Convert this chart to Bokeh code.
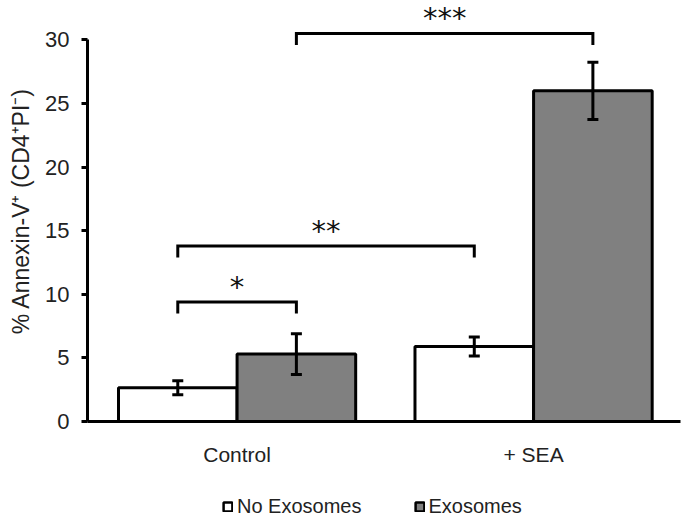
from bokeh.plotting import figure
from bokeh.layouts import column
from bokeh.models import Range1d, FixedTicker, Whisker, TeeHead, ColumnDataSource, Legend, LegendItem
from bokeh.core.properties import value
from bokeh.embed import file_html
from bokeh.resources import INLINE

# ---- data ----
categories = ["Control", "+ SEA"]
series_names = ["No Exosomes", "Exosomes"]
no_exo = [2.65, 5.9]
no_exo_err = [0.55, 0.75]
exo = [5.3, 26.0]
exo_err = [1.6, 2.25]
y_ticks = [0, 5, 10, 15, 20, 25, 30]
sig_labels = ["*", "**", "***"]
sig_from = [0, 0, 1]          # bar index (0: Control/No, 1: Control/Exo, 2: SEA/No, 3: SEA/Exo)
sig_to = [1, 2, 3]
sig_height = [9.4, 13.8, 30.5]
sig_leg = [8.5, 12.9, 29.6]

# ---- positions ----
group_x = [0.5, 1.5]
bw = 0.4
x_no = [g - bw / 2 for g in group_x]
x_ex = [g + bw / 2 for g in group_x]
bar_x = [x_no[0], x_ex[0], x_no[1], x_ex[1]]

FONT = "Liberation Sans"
TXT = "#222222"
NO_FILL = "white"
EX_FILL = "#808080"

p = figure(width=686, height=476, x_range=Range1d(-0.0045, 1.9955), y_range=Range1d(0, 33.1),
           output_backend="svg", toolbar_location=None,
           min_border_left=87, min_border_right=6, min_border_top=0, min_border_bottom=55)
p.outline_line_color = None
p.grid.visible = False

r_no = p.vbar(x=x_no, top=no_exo, width=bw, fill_color=NO_FILL, line_color="black", line_width=3)
r_ex = p.vbar(x=x_ex, top=exo, width=bw, fill_color=EX_FILL, line_color="black", line_width=3)

err_src = ColumnDataSource(dict(
    x=x_no + x_ex,
    upper=[v + e for v, e in zip(no_exo, no_exo_err)] + [v + e for v, e in zip(exo, exo_err)],
    lower=[v - e for v, e in zip(no_exo, no_exo_err)] + [v - e for v, e in zip(exo, exo_err)],
))
wh = Whisker(source=err_src, base="x", upper="upper", lower="lower", dimension="height",
             line_width=3, line_color="black", level="annotation",
             upper_head=TeeHead(size=11, line_width=3, line_color="black"),
             lower_head=TeeHead(size=11, line_width=3, line_color="black"))
p.add_layout(wh)

# significance brackets
xs, ys, tx, ty = [], [], [], []
for a, b, h, lg in zip(sig_from, sig_to, sig_height, sig_leg):
    xa, xb = bar_x[a], bar_x[b]
    xs.append([xa, xa, xb, xb])
    ys.append([lg, h, h, lg])
    tx.append((xa + xb) / 2)
    ty.append(h + 1.2)
p.multi_line(xs=xs, ys=ys, line_color="black", line_width=3, line_join="miter")
p.text(x=tx, y=ty, text=sig_labels, text_align="center", text_baseline="alphabetic",
       text_font=value("DejaVu Sans"), text_font_size="29px", text_color="#111111")

# y axis
ya = p.yaxis[0]
ya.ticker = FixedTicker(ticks=y_ticks)
ya.bounds = (0, 30)
ya.axis_line_width = 3
ya.major_tick_line_width = 3
ya.major_tick_out = 6
ya.major_tick_in = 0
ya.minor_tick_out = 0
ya.minor_tick_in = 0
ya.major_label_text_font = FONT
ya.major_label_text_font_size = "22px"
ya.major_label_text_color = TXT
ya.major_label_standoff = 12
ya.axis_label = "% Annexin-V\u207a (CD4\u207aPI\u207b)"
ya.axis_label_text_font = FONT
ya.axis_label_text_font_style = "normal"
ya.axis_label_text_font_size = "23px"
ya.axis_label_text_color = TXT
ya.axis_label_standoff = 8

# x axis
xa_ = p.xaxis[0]
xa_.ticker = FixedTicker(ticks=group_x)
xa_.major_label_overrides = {group_x[0]: categories[0], group_x[1]: categories[1]}
xa_.axis_line_width = 3
xa_.major_tick_out = 0
xa_.major_tick_in = 0
xa_.minor_tick_out = 0
xa_.minor_tick_in = 0
xa_.major_label_text_font = FONT
xa_.major_label_text_font_size = "21px"
xa_.major_label_text_color = TXT
xa_.major_label_standoff = 21

# legend strip below the chart: hidden copies of the bar renderers supply the legend keys
pl = figure(width=686, height=45, x_range=Range1d(-0.0045, 1.9955), y_range=Range1d(0, 1),
            output_backend="svg", toolbar_location=None,
            x_axis_location=None, y_axis_location=None,
            min_border_left=87, min_border_right=6, min_border_top=0, min_border_bottom=0)
pl.outline_line_color = None
pl.grid.visible = False
l_no = pl.vbar(x=x_no, top=no_exo, width=bw, fill_color=NO_FILL, line_color="black", line_width=2.5, visible=False)
l_ex = pl.vbar(x=x_ex, top=exo, width=bw, fill_color=EX_FILL, line_color="black", line_width=2.5, visible=False)
legend = Legend(items=[LegendItem(label=series_names[0], renderers=[l_no]),
                       LegendItem(label=series_names[1], renderers=[l_ex])],
                location=(135, 3), orientation="horizontal",
                border_line_color=None, background_fill_alpha=0,
                inactive_fill_alpha=0,
                padding=0, margin=0, spacing=52,
                glyph_width=11, glyph_height=11, label_standoff=4,
                label_text_font=FONT, label_text_font_size="20px", label_text_color=TXT)
pl.add_layout(legend, "center")

open("out.html", "w").write(file_html(column(p, pl, spacing=0), INLINE))
